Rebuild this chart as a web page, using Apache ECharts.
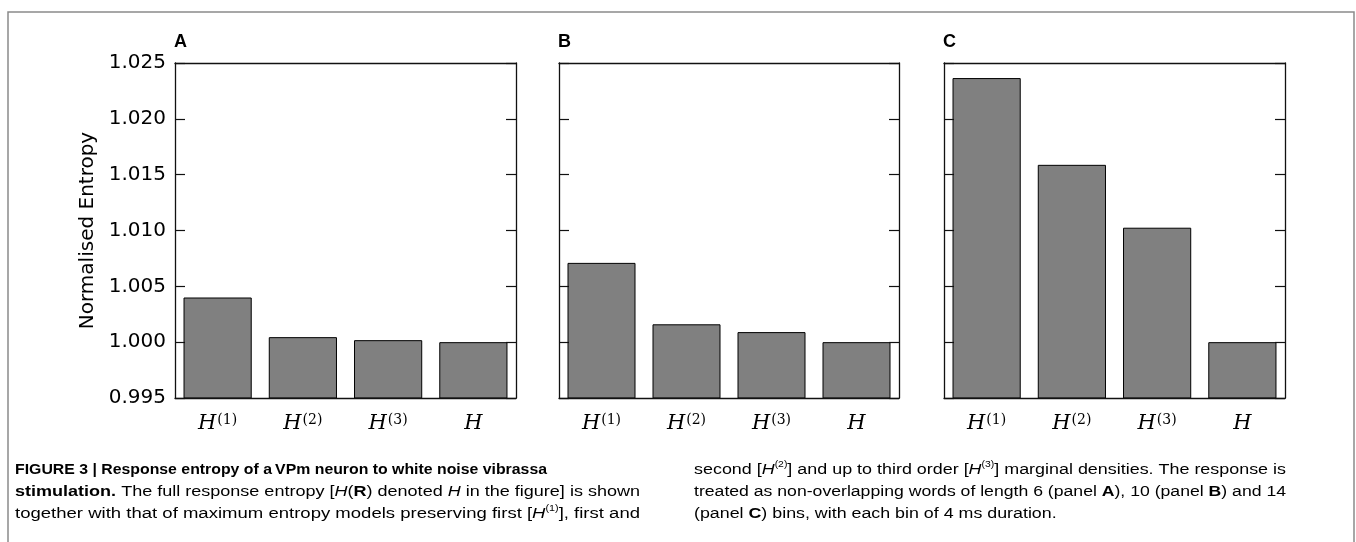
<!DOCTYPE html>
<html>
<head>
<meta charset="utf-8">
<script src="https://cdn.jsdelivr.net/npm/echarts@6/dist/echarts.min.js"></script>
<style>
html,body{margin:0;padding:0;background:#fff;}
#chart{width:1356px;height:542px;}
</style>
</head>
<body>
<div id="chart"></div>
<script>
// ---- data ----
const categories = ['H(1)', 'H(2)', 'H(3)', 'H'];
const catBase = ['H', 'H', 'H', 'H'];
const catSup = ['(1)', '(2)', '(3)', ''];
const panelLabels = ['A', 'B', 'C'];
const valuesA = [1.0040, 1.00045, 1.00018, 1.0000];
const valuesB = [1.0071, 1.0016, 1.0009, 1.0000];
const valuesC = [1.02365, 1.01588, 1.01025, 1.0000];
const yMin = 0.995, yMax = 1.025, yStep = 0.005;
const yAxisTitle = 'Normalised Entropy';

// caption text: each line is a list of [style, text] segments
const captionLeft = [
  [['b', 'FIGURE 3 | Response entropy of a\u2009VPm neuron to white noise vibrassa']],
  [['b', 'stimulation.'], ['n', ' The full response entropy ['], ['i', 'H'], ['n', '('], ['b', 'R'], ['n', ') denoted '], ['i', 'H'], ['n', ' in the figure] is shown']],
  [['n', 'together with that of maximum entropy models preserving first ['], ['i', 'H'], ['sup', '(1)'], ['n', '], first and']]
];
const captionRight = [
  [['n', 'second ['], ['i', 'H'], ['sup', '(2)'], ['n', '] and up to third order ['], ['i', 'H'], ['sup', '(3)'], ['n', '] marginal densities. The response is']],
  [['n', 'treated as non-overlapping words of length 6 (panel '], ['b', 'A'], ['n', '), 10 (panel '], ['b', 'B'], ['n', ') and 14']],
  [['n', '(panel '], ['b', 'C'], ['n', ') bins, with each bin of 4 ms duration.']]
];

const panels = [valuesA, valuesB, valuesC];
const gridLefts = [175, 559, 944];
const gridWidths = [341, 340, 341];
const gridTop = 63, gridHeight = 335;

const chart = echarts.init(document.getElementById('chart'));

const grids = [], xAxes = [], yAxes = [], series = [], titles = [];
const lineStyle = {color: '#111', width: 1.3};
const tickStyle = {color: '#111', width: 1.2};
const serif = "'DejaVu Serif', 'Liberation Serif', serif";

panels.forEach((vals, p) => {
  grids.push({left: gridLefts[p], top: gridTop, width: gridWidths[p], height: gridHeight, containLabel: false});
  xAxes.push({
    type: 'category', gridIndex: p, position: 'bottom', data: categories, z: 5,
    axisLine: {lineStyle: lineStyle},
    axisTick: {inside: true, length: 10, alignWithLabel: true, lineStyle: tickStyle},
    axisLabel: {
      margin: 10,
      formatter: (v, i) => '{h|' + catBase[i] + '}' + (catSup[i] ? '{s|' + catSup[i] + '}' : ''),
      rich: {
        h: {fontFamily: serif, fontStyle: 'italic', fontSize: 21, color: '#000', verticalAlign: 'bottom', lineHeight: 26},
        s: {fontFamily: serif, fontSize: 14, color: '#000', verticalAlign: 'top', lineHeight: 16, padding: [5, 0, 0, 1]}
      }
    },
    splitLine: {show: false}
  });
  xAxes.push({
    type: 'category', gridIndex: p, position: 'top', data: categories, z: 5,
    axisLine: {lineStyle: lineStyle},
    axisTick: {inside: true, length: 10, alignWithLabel: true, lineStyle: tickStyle},
    axisLabel: {show: false}, splitLine: {show: false}
  });
  yAxes.push({
    type: 'value', gridIndex: p, position: 'left', min: yMin, max: yMax, interval: yStep, z: 5,
    axisLine: {show: true, lineStyle: lineStyle},
    axisTick: {show: true, inside: true, length: 10, lineStyle: tickStyle},
    axisLabel: {
      show: p === 0, margin: 9, color: '#000', fontSize: 20,
      fontFamily: "'DejaVu Sans', sans-serif",
      formatter: v => v.toFixed(3)
    },
    splitLine: {show: false},
    name: p === 0 ? yAxisTitle : '', nameLocation: 'middle', nameGap: 77,
    nameTextStyle: {fontSize: 20, color: '#000', fontFamily: "'DejaVu Sans', sans-serif"}
  });
  yAxes.push({
    type: 'value', gridIndex: p, position: 'right', min: yMin, max: yMax, interval: yStep, z: 5,
    axisLine: {show: true, lineStyle: lineStyle},
    axisTick: {show: true, inside: true, length: 10, lineStyle: tickStyle},
    axisLabel: {show: false}, splitLine: {show: false}
  });
  series.push({
    type: 'bar', xAxisIndex: p * 2, yAxisIndex: p * 2, data: vals, barWidth: '80%',
    itemStyle: {color: '#808080', borderColor: '#000', borderWidth: 1},
    silent: true, animation: false
  });
  titles.push({
    text: panelLabels[p], left: gridLefts[p] - 6, top: 28,
    textStyle: {fontFamily: "'Liberation Sans', Arial, sans-serif", fontWeight: 'bold', fontSize: 18, color: '#000'}
  });
});

// ---- caption (real text, stretched per line to the column width) ----
const capFont = "'Liberation Sans', Arial, sans-serif";
const capStyles = {
  n: {fontFamily: capFont, fontSize: 15.5, color: '#333', lineHeight: 22, verticalAlign: 'bottom'},
  b: {fontFamily: capFont, fontSize: 15.5, color: '#111', fontWeight: 'bold', lineHeight: 22, verticalAlign: 'bottom'},
  i: {fontFamily: capFont, fontSize: 15.5, color: '#333', fontStyle: 'italic', lineHeight: 22, verticalAlign: 'bottom'},
  sup: {fontFamily: capFont, fontSize: 9, color: '#333', verticalAlign: 'top', lineHeight: 11, padding: [4, 0, 0, 0]}
};
const mctx = document.createElement('canvas').getContext('2d');
function segWidth(st, txt) {
  const s = capStyles[st];
  mctx.font = (s.fontStyle || 'normal') + ' ' + (s.fontWeight || 'normal') + ' ' + s.fontSize + 'px ' + s.fontFamily;
  return mctx.measureText(txt).width;
}
function lineWidth(line) { return line.reduce((a, sg) => a + segWidth(sg[0], sg[1]), 0); }
function lineRich(line) { return line.map(sg => '{' + sg[0] + '|' + sg[1] + '}').join(''); }

const capGraphics = [];
function addColumn(lines, x, targets) {
  lines.forEach((line, k) => {
    const w = lineWidth(line);
    const sx = targets[k] ? targets[k] / w : 1.15;
    capGraphics.push({
      type: 'text', x: x, y: 456 + k * 22, scaleX: sx, silent: true,
      style: {text: lineRich(line), rich: capStyles, verticalAlign: 'top'}
    });
  });
}
addColumn(captionLeft, 15, [532, 625, 625]);
addColumn(captionRight, 694, [592, 592, 0]);

chart.setOption({
  animation: false,
  backgroundColor: '#fff',
  title: titles,
  grid: grids,
  xAxis: xAxes,
  yAxis: yAxes,
  series: series,
  graphic: [
    {type: 'rect', shape: {x: 8, y: 12, width: 1346, height: 560}, style: {fill: 'none', stroke: '#8a8a8a', lineWidth: 1.5}, silent: true, z: -1}
  ].concat(capGraphics)
});
</script>
</body>
</html>
